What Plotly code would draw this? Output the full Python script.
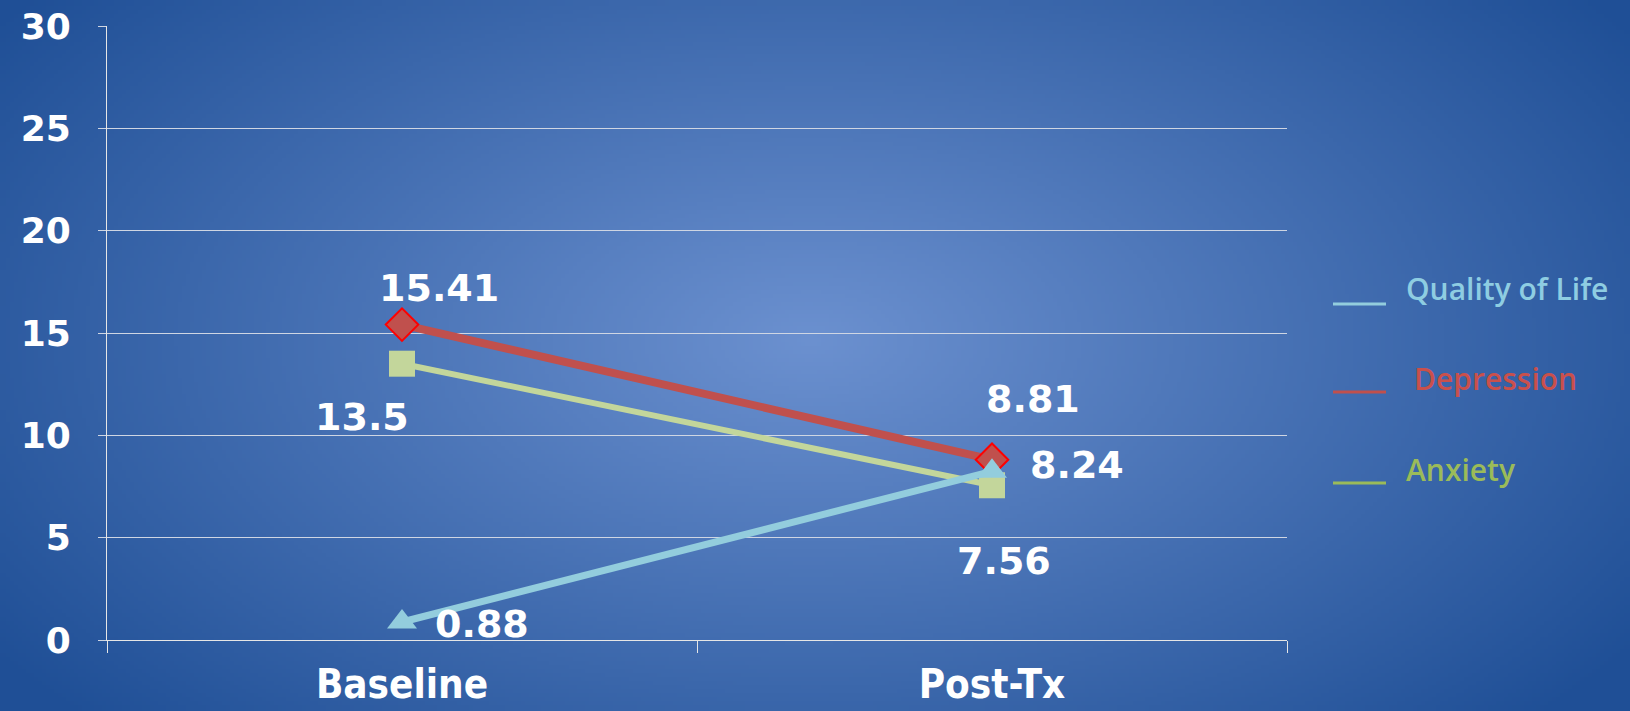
import zlib, struct, base64
import numpy as np
import plotly.graph_objects as go

# ---------------- data ----------------
categories = ["Baseline", "Post-Tx"]
quality_of_life = [0.88, 8.24]
depression = [15.41, 8.81]
anxiety = [13.5, 7.56]
y_ticks = [0, 5, 10, 15, 20, 25, 30]

# ---------------- figure geometry ----------------
W, H = 1630, 711
L, R, T, B = 107, 343, 26, 71
PW, PH = W - L - R, H - T - B

# ---------------- radial gradient background (PNG) ----------------
def make_png(w, h):
    xs = (np.arange(w) + 0.5) * W / w
    ys = (np.arange(h) + 0.5) * H / h
    X, Y = np.meshgrid(xs, ys)
    t = np.sqrt(((X - 810) / 1000.0) ** 2 + ((Y - 340) / 560.0) ** 2)
    t = np.clip(t, 0, 1)
    c0 = np.array([108, 145, 208], float)
    c1 = np.array([31, 79, 150], float)
    img = c0[None, None, :] * (1 - t[..., None]) + c1[None, None, :] * t[..., None]
    img = img.astype(np.uint8)
    raw = b"".join(b"\x00" + img[r].tobytes() for r in range(h))

    def chunk(tag, data):
        c = struct.pack(">I", len(data)) + tag + data
        return c + struct.pack(">I", zlib.crc32(tag + data) & 0xFFFFFFFF)

    png = b"\x89PNG\r\n\x1a\n"
    png += chunk(b"IHDR", struct.pack(">IIBBBBB", w, h, 8, 2, 0, 0, 0))
    png += chunk(b"IDAT", zlib.compress(raw, 9))
    png += chunk(b"IEND", b"")
    return "data:image/png;base64," + base64.b64encode(png).decode()

bg = make_png(408, 178)

# ---------------- colours ----------------
c_qol = "#93cddd"
c_dep = "#c0504d"
c_anx = "#c3d69b"

fig = go.Figure()
fig.add_trace(go.Scatter(
    x=categories, y=anxiety, mode="lines+markers", name="Anxiety",
    line=dict(color=c_anx, width=6),
    marker=dict(symbol="square", size=26, color=c_anx, line=dict(width=0)),
))
fig.add_trace(go.Scatter(
    x=categories, y=depression, mode="lines+markers", name="Depression",
    line=dict(color=c_dep, width=8),
    marker=dict(symbol="diamond", size=25, color=c_dep, line=dict(color="#ff0000", width=2)),
))
fig.add_trace(go.Scatter(
    x=categories, y=quality_of_life, mode="lines+markers", name="Quality of Life",
    line=dict(color=c_qol, width=7),
    marker=dict(symbol="triangle-up", size=26, color=c_qol, line=dict(width=0)),
))

# ---------------- data labels ----------------
label_font = dict(family="DejaVu Sans", size=38, color="white", weight="bold")
label_offsets = {
    "dep": [(37, 37), (41, 61)],
    "anx": [(-40, -53), (12, -76)],
    "qol": [(80, -2), (85, 6)],
}
annotations = []
for key, vals in (("dep", depression), ("anx", anxiety), ("qol", quality_of_life)):
    for i, (cat, v) in enumerate(zip(categories, vals)):
        dx, dy = label_offsets[key][i]
        annotations.append(dict(
            x=cat, y=v, xref="x", yref="y", text=f"{v:g}", showarrow=False,
            xshift=dx, yshift=dy, font=label_font,
            xanchor="center", yanchor="middle",
        ))

# ---------------- custom legend ----------------
def px_x(p):
    return (p - L) / PW

def px_y(p):
    return (H - B - p) / PH

legend_items = [
    ("Quality of Life", c_qol, "#8ecde2", 1404, 288, 304),
    ("Depression", c_dep, "#c9504c", 1412, 378, 392),
    ("Anxiety", "#9bbb59", "#9bbb59", 1404, 469, 483),
]
shapes = []
for name, lc, tc, tx, ty, ly in legend_items:
    annotations.append(dict(
        x=px_x(tx), y=px_y(ty), xref="paper", yref="paper", text=name,
        showarrow=False, xanchor="left", yanchor="middle",
        font=dict(family="Open Sans", size=30, color=tc, weight=600),
    ))
    shapes.append(dict(
        type="line", xref="paper", yref="paper",
        x0=px_x(1333), x1=px_x(1386), y0=px_y(ly), y1=px_y(ly),
        line=dict(color=lc, width=3),
    ))

fig.update_layout(
    width=W, height=H,
    margin=dict(l=L, r=R, t=T, b=B, pad=0, autoexpand=False),
    paper_bgcolor="#1f4f96",
    plot_bgcolor="rgba(0,0,0,0)",
    showlegend=False,
    annotations=annotations,
    shapes=shapes,
    images=[dict(
        source=bg, xref="paper", yref="paper",
        x=-L / PW, y=1 + T / PH, sizex=W / PW, sizey=H / PH,
        xanchor="left", yanchor="top", sizing="stretch", layer="below",
    )],
    xaxis=dict(
        type="category", tickson="boundaries", range=[-0.5, 1.5],
        showgrid=False, showline=True, linecolor="#e6e6e6", linewidth=1,
        ticks="outside", ticklen=12, tickcolor="#e6e6e6", tickwidth=1,
        tickfont=dict(family="DejaVu Sans Condensed", size=40, color="white", weight="bold"),
        ticklabelstandoff=9, automargin=False,
        zeroline=False, fixedrange=True,
    ),
    yaxis=dict(
        range=[0, 30], tickvals=y_ticks, ticktext=[str(v) for v in y_ticks],
        showgrid=True, gridcolor="#cfd6e3", gridwidth=1,
        showline=True, linecolor="#e6e6e6", linewidth=1,
        ticks="outside", ticklen=8, tickcolor="#cfd6e3",
        tickfont=dict(family="DejaVu Sans", size=36, color="white", weight="bold"),
        ticklabelstandoff=20, automargin=False,
        zeroline=False, fixedrange=True,
    ),
)

fig.write_html(
    "out.html",
    config={"displayModeBar": False},
    post_script="document.body.style.margin='0';document.body.style.overflow='hidden';",
)
